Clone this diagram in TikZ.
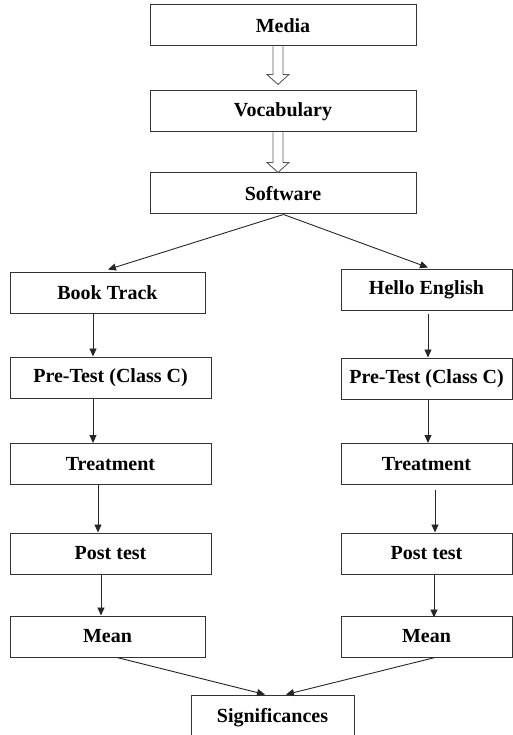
\documentclass[tikz,border=0pt]{standalone}
\usepackage{fontspec}
\setmainfont{Liberation Serif}
\usetikzlibrary{arrows.meta}
\begin{document}
\begin{tikzpicture}[x=1pt,y=-1pt,
  box/.style={draw=black!80, line width=1pt, inner sep=0pt, anchor=center,
    font=\fontsize{20}{24}\selectfont\bfseries},
  wide/.style={box, minimum width=266pt, minimum height=41pt},
  lbox/.style={box, minimum width=201pt, minimum height=41pt},
  lnar/.style={box, minimum width=195pt, minimum height=41pt},
  rbox/.style={box, minimum width=171pt, minimum height=41pt},
  arr/.style={draw=black!85, line width=0.9pt, -{Triangle[length=8pt,width=7pt]}},
  hollow/.style={draw=black!65, line width=0.9pt, fill=white, line join=miter}]
\useasboundingbox (0,0) rectangle (513,735);
\clip (0,0) rectangle (513,735);

% top chain
\node[wide] (media) at (283,25.5) {Media};
\node[wide] (vocab) at (283,111.5) {Vocabulary};
\node[wide] (soft)  at (283,193.5) {Software};

% left column
\node[lnar] (bt)  at (107.5,292.5) {Book Track};
\node[lbox] (pl)  at (110.5,377.5) {Pre-Test (Class C)};
\node[lbox] (tl)  at (110.5,464)   {Treatment};
\node[lbox] (ptl) at (110.5,553.5) {Post test};
\node[lnar] (ml)  at (107.5,636.5) {Mean};

% right column
\node[rbox] (he)  at (426.5,289.5) {Hello English};
\node[rbox] (pr)  at (426.5,378.5) {Pre-Test (Class C)};
\node[rbox] (tr)  at (426.5,464)   {Treatment};
\node[rbox] (ptr) at (426.5,553.5) {Post test};
\node[rbox] (mr)  at (426.5,636.5) {Mean};

% bottom
\node[box, minimum width=163pt, minimum height=46pt] (sig) at (272.5,718) {\raisebox{4pt}{Significances}};

% hollow block arrows
\draw[hollow] ([xshift=-10pt]media.south) -- ++(0,28) -- ++(-6,0) -- ++(11,10) -- ++(11,-10) -- ++(-6,0) -- ++(0,-28);
\draw[hollow] ([xshift=-10pt]vocab.south) -- ++(0,30) -- ++(-6,0) -- ++(11,10) -- ++(11,-10) -- ++(-6,0) -- ++(0,-30);

% split
\draw[arr] ([xshift=0.5pt]soft.south) -- ([xshift=0.5pt,yshift=2pt]bt.north);
\draw[arr] ([xshift=0.5pt]soft.south) -- ([xshift=1.5pt,yshift=1pt]he.north);

% left chain
\draw[arr] ([xshift=-14.5pt]bt.south) -- ([xshift=-17.5pt]pl.north);
\draw[arr] ([xshift=-17.5pt]pl.south) -- ([xshift=-17.5pt]tl.north);
\draw[arr] ([xshift=-12.5pt]tl.south) -- ([xshift=-12.5pt]ptl.north);
\draw[arr] ([xshift=-9.5pt]ptl.south) -- ([xshift=-6.5pt]ml.north);

% right chain
\draw[arr, shorten <=3pt] ([xshift=1.5pt]he.south) -- ([xshift=1.5pt]pr.north);
\draw[arr] ([xshift=1.5pt]pr.south) -- ([xshift=1.5pt]tr.north);
\draw[arr, shorten <=5pt] ([xshift=8.5pt]tr.south) -- ([xshift=8.5pt]ptr.north);
\draw[arr] ([xshift=7.5pt]ptr.south) -- ([xshift=7.5pt,yshift=-2pt]mr.north);

% merge
\draw[arr] ([xshift=9.5pt]ml.south) -- ([xshift=-7.5pt]sig.north);
\draw[arr] ([xshift=8.5pt]mr.south) -- ([xshift=13.5pt]sig.north);
\end{tikzpicture}
\end{document}
